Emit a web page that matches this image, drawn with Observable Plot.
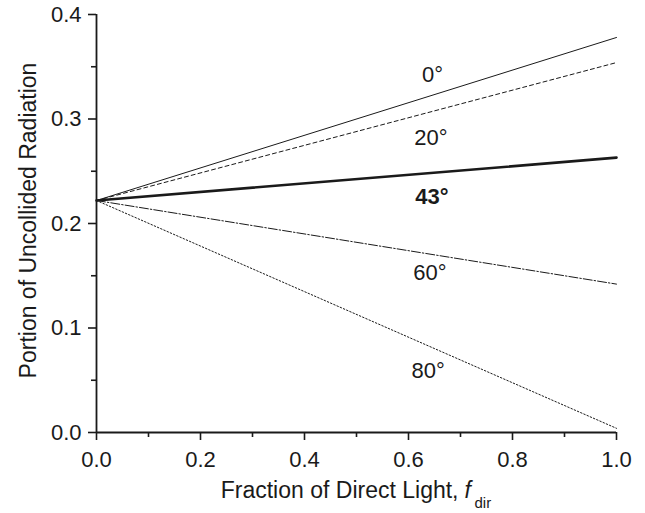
<!DOCTYPE html>
<html><head><meta charset="utf-8">
<script src="https://cdn.jsdelivr.net/npm/d3@7"></script>
<script src="https://cdn.jsdelivr.net/npm/@observablehq/plot@0.6"></script>
<style>
body{margin:0;background:#fff}
svg{font-family:"Liberation Sans",Arial,Helvetica,sans-serif}
</style>
</head><body><div id="chart"></div><script>
// Data
const angles = ["0", "20", "43", "60", "80"];
const fdirValues = [0, 1];
const startValues = [0.222, 0.222, 0.222, 0.222, 0.222];
const endValues = [0.378, 0.354, 0.263, 0.142, 0.004];
const labelFdir = [0.626, 0.611, 0.613, 0.609, 0.606];
const labelPortion = [0.335, 0.275, 0.219, 0.146, 0.052];
const xTicks = [0, 0.2, 0.4, 0.6, 0.8, 1.0];
const xMinorTicks = [0.1, 0.3, 0.5, 0.7, 0.9];
const yTicks = [0, 0.1, 0.2, 0.3, 0.4];
const yMinorTicks = [0.05, 0.15, 0.25, 0.35];
const xLabel = "Fraction of Direct Light,";
const xLabelVar = "f";
const xLabelSub = "dir";
const yLabel = "Portion of Uncollided Radiation";

const rows = angles.flatMap((a, i) => [
  {angle: a, f: fdirValues[0], v: startValues[i]},
  {angle: a, f: fdirValues[1], v: endValues[i]}
]);
const labels = angles.map((a, i) => ({angle: a, text: a + "°", f: labelFdir[i], v: labelPortion[i]}));

const ink = "#1a1a1a";
const lineStyle = {
  "0":  {strokeWidth: 1, strokeDasharray: null},
  "20": {strokeWidth: 1, strokeDasharray: "4,3"},
  "43": {strokeWidth: 2.6, strokeDasharray: null},
  "60": {strokeWidth: 1, strokeDasharray: "9,2,1.5,2"},
  "80": {strokeWidth: 1, strokeDasharray: "1.5,2"}
};

const lineMarks = angles.map(a => Plot.line(rows.filter(d => d.angle === a), {
  x: "f", y: "v", stroke: ink, ...lineStyle[a]
}));

const chart = Plot.plot({
  width: 645,
  height: 513,
  marginLeft: 96,
  marginRight: 29,
  marginTop: 14,
  marginBottom: 81,
  style: {fontSize: "22px", color: ink, background: "#fff"},
  x: {domain: [0, 1]},
  y: {domain: [0, 0.4]},
  marks: [
    Plot.axisX({ticks: xTicks, tickSize: 8, tickPadding: 11, tickFormat: d3.format(".1f"), strokeWidth: 1.6, fontSize: 22, label: null}),
    Plot.axisX({ticks: xMinorTicks, tickSize: 5, tickFormat: () => "", strokeWidth: 1.6, label: null}),
    Plot.axisY({ticks: yTicks, tickSize: 8, tickPadding: 7, tickFormat: d3.format(".1f"), strokeWidth: 1.6, fontSize: 22, label: null}),
    Plot.axisY({ticks: yMinorTicks, tickSize: 5, tickFormat: () => "", strokeWidth: 1.6, label: null}),
    Plot.ruleX([0], {stroke: ink, strokeWidth: 1.8}),
    Plot.ruleY([0], {stroke: ink, strokeWidth: 1.8}),
    ...lineMarks,
    Plot.text(labels.filter(d => d.angle !== "43"), {x: "f", y: "v", text: "text", textAnchor: "start", lineAnchor: "bottom", fontSize: 22, fill: ink}),
    Plot.text(labels.filter(d => d.angle === "43"), {x: "f", y: "v", text: "text", textAnchor: "start", lineAnchor: "bottom", fontSize: 22, fontWeight: "bold", fill: ink}),
    Plot.text([xLabel], {frameAnchor: "bottom", text: d => d, textAnchor: "end", lineAnchor: "bottom", dx: 102, dy: 65, fontSize: 23, fill: ink}),
    Plot.text([xLabelVar], {frameAnchor: "bottom", text: d => d, textAnchor: "start", lineAnchor: "bottom", dx: 108, dy: 65, fontSize: 23, fontStyle: "italic", fill: ink}),
    Plot.text([xLabelSub], {frameAnchor: "bottom", text: d => d, textAnchor: "start", lineAnchor: "bottom", dx: 118, dy: 75, fontSize: 15, fill: ink}),
    Plot.text([yLabel], {frameAnchor: "left", text: d => d, rotate: -90, textAnchor: "middle", lineAnchor: "bottom", dx: -61, dy: -3, fontSize: 23, fill: ink})
  ]
});
document.getElementById("chart").appendChild(chart);
</script></body></html>
